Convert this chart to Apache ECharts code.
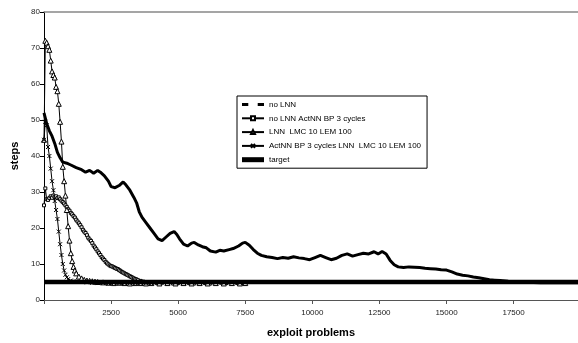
<!DOCTYPE html>
<html><head><meta charset="utf-8">
<script src="https://cdn.jsdelivr.net/npm/echarts@6/dist/echarts.min.js"></script>
<style>html,body{margin:0;padding:0;background:#fff}#c{width:578px;height:343px}</style>
</head><body><div id="c"></div>
<script>
var seriesNames = ['no LNN', 'no LNN ActNN BP 3 cycles', 'LNN  LMC 10 LEM 100', 'ActNN BP 3 cycles LNN  LMC 10 LEM 100', 'target'];
var xTicks = [2500, 5000, 7500, 10000, 12500, 15000, 17500];

var noLNN = [[0,52],[100,49],[200,47],[300,45.5],[400,43.5],[500,41],[600,39.5],[700,38.3],[850,38],[1000,37.5],[1200,36.8],[1400,36.2],[1550,35.5],[1700,36],[1850,35.2],[2000,36],[2100,35.5],[2250,34.5],[2400,33],[2500,31.5],[2650,31.2],[2800,31.8],[2950,32.8],[3050,32],[3200,30.5],[3350,28.5],[3450,27],[3550,24.5],[3650,23],[3800,21.5],[3950,20],[4100,18.5],[4250,17],[4400,16.5],[4550,17.5],[4700,18.5],[4850,19],[4950,18.2],[5050,17],[5200,15.5],[5350,15],[5500,15.8],[5600,16],[5750,15.3],[5900,14.8],[6050,14.5],[6200,13.6],[6400,13.3],[6550,13.8],[6700,13.6],[6900,14],[7050,14.3],[7250,15],[7400,15.8],[7500,16],[7650,15.2],[7800,14],[7950,13],[8100,12.4],[8300,12],[8500,11.8],[8700,11.5],[8900,11.8],[9100,11.6],[9300,12],[9500,11.7],[9700,11.5],[9900,11.2],[10100,11.8],[10300,12.4],[10500,11.8],[10700,11.2],[10900,11.6],[11100,12.4],[11300,12.8],[11500,12.2],[11700,12.6],[11900,13],[12100,12.8],[12300,13.4],[12450,12.8],[12600,13.5],[12750,12.8],[12900,11],[13050,9.8],[13200,9.2],[13400,9],[13600,9.2],[13800,9.1],[14000,9],[14200,8.8],[14400,8.7],[14600,8.6],[14800,8.4],[15000,8.3],[15200,7.8],[15400,7.2],[15600,6.9],[15800,6.7],[16000,6.4],[16200,6.2],[16400,5.9],[16600,5.6],[16800,5.5],[17000,5.4],[17300,5.2],[17600,5.1],[18000,4.9],[18500,4.8],[19000,4.8],[19500,4.8],[19900,4.8]];

var noLNNActNN = [[0,26.3],[50,31],[100,28],[150,27.8],[200,28.3],[250,28.8],[300,28.4],[350,29],[400,28.6],[450,28.8],[500,28.3],[550,28.5],[600,28],[650,27.6],[700,27.2],[750,26.8],[800,26.3],[850,25.8],[900,25.2],[950,24.8],[1000,24.2],[1050,23.8],[1100,23.3],[1150,22.9],[1200,22.3],[1250,21.8],[1300,21.3],[1350,20.8],[1400,20.2],[1450,19.5],[1500,19],[1550,18.6],[1600,18],[1650,17.3],[1700,16.8],[1750,16.4],[1800,15.8],[1850,15.1],[1900,14.6],[1950,14.1],[2000,13.5],[2050,13],[2100,12.5],[2150,11.9],[2200,11.5],[2250,11.1],[2300,10.6],[2350,10.2],[2400,9.9],[2450,9.6],[2500,9.4],[2550,9.3],[2600,9.1],[2650,8.9],[2700,8.7],[2750,8.6],[2800,8.3],[2850,8.1],[2900,7.8],[2950,7.6],[3000,7.4],[3050,7.2],[3100,7],[3150,6.8],[3200,6.6],[3250,6.4],[3300,6.2],[3350,6],[3400,5.8],[3450,5.7],[3500,5.5],[3600,5.3],[3700,5.1],[3800,5],[3900,4.9],[4000,4.8],[4200,4.7],[4400,4.8],[4600,4.7],[4800,4.6],[5000,4.7],[5200,4.8],[5400,4.7],[5600,4.6],[5800,4.7],[6000,4.7],[6200,4.6],[6400,4.7],[6600,4.8],[6800,4.7],[7000,4.6],[7200,4.7],[7400,4.7],[7500,4.6]];

var lnnLMC = [[0,44.5],[50,72],[100,71.5],[150,70.5],[200,69.5],[250,66.5],[300,63.5],[350,62.5],[400,61.8],[450,59.2],[500,58],[550,54.5],[600,49.5],[650,44],[700,37],[750,33],[800,29],[850,25],[900,20.5],[950,16.5],[1000,13],[1050,10.8],[1100,9.2],[1150,8.2],[1200,7.4],[1300,6.5],[1400,6],[1500,5.6],[1600,5.4],[1700,5.3],[1800,5.2],[1900,5.1],[2000,5],[2200,4.9],[2400,4.8],[2600,4.7],[2800,4.8],[3000,4.7],[3200,4.6],[3400,4.7],[3600,4.7],[3800,4.6],[4000,4.7],[4300,4.6],[4600,4.7],[4900,4.6],[5200,4.7],[5500,4.6],[5800,4.7],[6100,4.6],[6400,4.7],[6700,4.6],[7000,4.7],[7300,4.6],[7500,4.7]];

var actLnn = [[0,44.5],[50,49.5],[100,48.5],[150,42.5],[200,40],[250,36.5],[300,33],[350,30.5],[400,27.5],[450,25],[500,22.5],[550,19],[600,15.5],[650,12.5],[700,10],[750,8.2],[800,7],[850,6.3],[900,5.8],[1000,5.4],[1100,5.2],[1200,5.1],[1400,5],[1600,4.9],[1800,4.8],[2000,4.7],[2200,4.7],[2400,4.6],[2600,4.7],[2800,4.6],[3000,4.7],[3200,4.6],[3400,4.6],[3600,4.7],[3800,4.6],[4000,4.6]];

var target = [[0,5],[19900,5]];

var xSym = 'path://M0,0L10,10M10,0L0,10';

var chart = echarts.init(document.getElementById('c'));
var font = 'Liberation Sans, Arial, sans-serif';
chart.setOption({
  animation: false,
  textStyle: {fontFamily: font},
  grid: {left: 44, top: 12, right: 0, bottom: 38},
  legend: {
    orient: 'vertical', left: 237, top: 96,
    itemWidth: 22, itemHeight: 5, itemGap: 4.8,
    padding: [4, 6, 4, 4],
    borderColor: '#000', borderWidth: 1, backgroundColor: '#fff',
    textStyle: {fontSize: 8, lineHeight: 9, color: '#000', fontFamily: font},
    data: [
      {name: seriesNames[0], icon: 'path://M0,0H6V3H0Z M15,0H21V3H15Z', itemStyle: {color: '#000', borderWidth: 0}},
      {name: seriesNames[1]},
      {name: seriesNames[2]},
      {name: seriesNames[3]},
      {name: seriesNames[4], icon: 'rect', itemStyle: {color: '#000', borderWidth: 0}}
    ]
  },
  xAxis: [{
    type: 'value', min: 0, max: 19900, interval: 2500,
    name: 'exploit problems', nameLocation: 'middle', nameGap: 27,
    nameTextStyle: {fontSize: 11, fontWeight: 'bold', color: '#000', fontFamily: font},
    axisLine: {lineStyle: {color: '#555', width: 1}},
    axisTick: {show: true, length: 4, lineStyle: {color: '#555'}},
    axisLabel: {fontSize: 8, color: '#222', margin: 9, showMaxLabel: false,
      formatter: function (v) { return xTicks.indexOf(v) >= 0 ? String(v) : ''; }},
    splitLine: {show: false}
  }, {
    type: 'value', position: 'top', min: 0, max: 19900,
    axisLine: {show: true, lineStyle: {color: '#888', width: 1.5}},
    axisTick: {show: false}, axisLabel: {show: false}, splitLine: {show: false}
  }],
  yAxis: {
    type: 'value', min: 0, max: 80, interval: 10,
    name: 'steps', nameLocation: 'middle', nameGap: 20,
    nameTextStyle: {fontSize: 11, fontWeight: 'bold', color: '#000', fontFamily: font},
    axisLine: {show: true, lineStyle: {color: '#000', width: 1}},
    axisTick: {show: true, length: 4, lineStyle: {color: '#000'}},
    axisLabel: {fontSize: 8, color: '#222', margin: 4},
    splitLine: {show: false}
  },
  series: [
    {name: seriesNames[0], type: 'line', data: noLNN, showSymbol: false, symbol: 'none',
      lineStyle: {color: '#000', width: 3}, itemStyle: {color: '#000'}, z: 3},
    {name: seriesNames[1], type: 'line', data: noLNNActNN, symbol: 'rect', symbolSize: 3, showAllSymbol: true,
      lineStyle: {color: '#000', width: 1}, itemStyle: {color: '#fff', borderColor: '#000', borderWidth: 1}, z: 4},
    {name: seriesNames[2], type: 'line', data: lnnLMC, symbol: 'triangle', symbolSize: 5, showAllSymbol: true,
      lineStyle: {color: '#000', width: 1}, itemStyle: {color: '#fff', borderColor: '#000', borderWidth: 1}, z: 4},
    {name: seriesNames[3], type: 'line', data: actLnn, symbol: xSym, symbolSize: 4, showAllSymbol: true,
      lineStyle: {color: '#000', width: 1}, itemStyle: {color: 'transparent', borderColor: '#000', borderWidth: 1}, z: 4},
    {name: seriesNames[4], type: 'line', data: target, symbol: 'none',
      lineStyle: {color: '#000', width: 4.5}, itemStyle: {color: '#000'}, z: 5}
  ]
});
</script></body></html>
